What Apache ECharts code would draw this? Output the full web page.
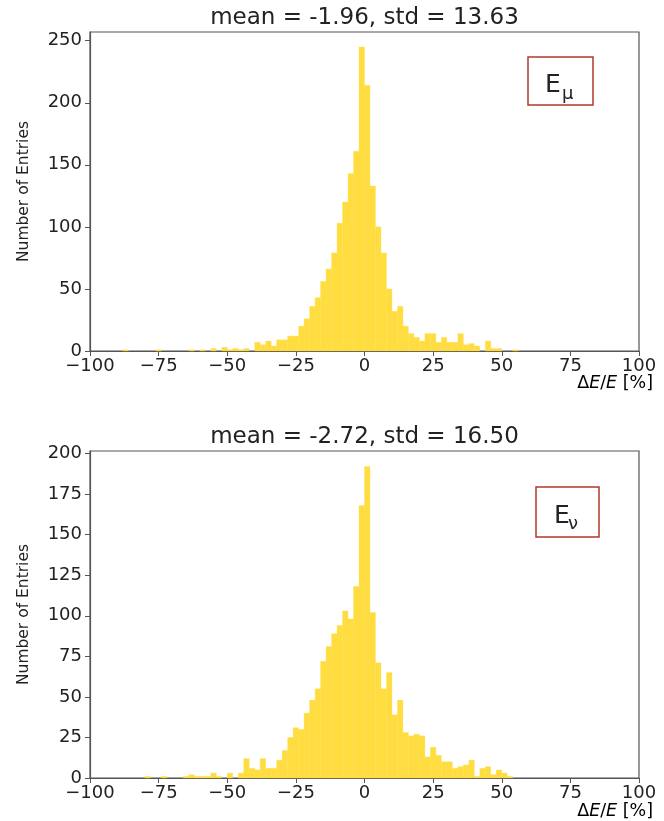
<!DOCTYPE html>
<html><head><meta charset="utf-8">
<script src="https://cdn.jsdelivr.net/npm/echarts@6/dist/echarts.min.js"></script>
<style>html,body{margin:0;padding:0;background:#fff}#c{width:664px;height:821px}</style>
</head><body><div id="c"></div>
<script>
// ---- data ----
const BIN_WIDTH = 2;
const xTicks = [-100, -75, -50, -25, 0, 25, 50, 75, 100];
const muYTicks = [0, 50, 100, 150, 200, 250];
const nuYTicks = [0, 25, 50, 75, 100, 125, 150, 175, 200];
const muYMax = 257;
const nuYMax = 201.6;
const muTitle = 'mean = -1.96, std = 13.63';
const nuTitle = 'mean = -2.72, std = 16.50';
const yName = 'Number of Entries';
// left edge of each non-empty 2% bin, and its count
const muBins = [-88,-76,-64,-60,-56,-52,-50,-48,-46,-44,-40,-38,-36,-34,-32,-30,-28,-26,-24,-22,-20,-18,-16,-14,-12,-10,-8,-6,-4,-2,0,2,4,6,8,10,12,14,16,18,20,22,24,26,28,30,32,34,36,38,40,44,46,48,54];
const muCounts = [1,1,1,1,2,3,1,2,1,2,7,5,8,4,9,9,12,12,20,26,36,43,56,66,79,103,120,143,161,245,214,133,100,79,50,32,36,20,14,11,8,14,14,7,11,7,7,14,5,6,4,8,2,2,1];
const nuBins = [-80,-74,-66,-64,-62,-60,-58,-56,-54,-50,-46,-44,-42,-40,-38,-36,-34,-32,-30,-28,-26,-24,-22,-20,-18,-16,-14,-12,-10,-8,-6,-4,-2,0,2,4,6,8,10,12,14,16,18,20,22,24,26,28,30,32,34,36,38,40,42,44,46,48,50,52];
const nuCounts = [1,1,1,2,1,1,1,3,1,3,3,12,6,5,12,6,6,11,17,25,31,30,40,48,55,72,81,89,94,103,98,118,168,192,102,71,55,65,39,48,28,26,27,26,13,19,14,10,10,6,7,8,11,1,6,7,2,5,3,1];

// ---- style ----
const BAR = '#FFDD40';
const AX = '#555';
const TXT = '#222';
const FONT = "'DejaVu Sans', sans-serif";
const minus = v => String(v).replace('-', '\u2212');

function renderBar(params, api) {
  const left = api.value(0), cnt = api.value(1);
  const p0 = api.coord([left, cnt]);
  const p1 = api.coord([left + BIN_WIDTH, 0]);
  return {type: 'rect', shape: {x: p0[0], y: p0[1], width: p1[0] - p0[0], height: p1[1] - p0[1]},
          style: {fill: BAR, stroke: BAR, lineWidth: 0.3}};
}

function xAxis(gi) {
  return {gridIndex: gi, type: 'value', min: xTicks[0], max: xTicks[xTicks.length - 1], interval: 25,
    axisLine: {show: true, onZero: false, lineStyle: {color: AX, width: 1.2}},
    axisTick: {show: true, length: 5, lineStyle: {color: AX}},
    axisLabel: {color: TXT, fontSize: 18, fontFamily: FONT, margin: 6, formatter: minus,
                customValues: xTicks},
    splitLine: {show: false}};
}
function yAxis(gi, ticks, max, interval) {
  return {gridIndex: gi, type: 'value', min: 0, max: max, interval: interval,
    name: yName, nameLocation: 'middle', nameGap: 58,
    nameTextStyle: {color: TXT, fontSize: 15.5, fontFamily: FONT},
    axisLine: {show: true, onZero: false, lineStyle: {color: AX, width: 1.2}},
    axisTick: {show: true, length: 5, lineStyle: {color: AX}, customValues: ticks},
    axisLabel: {color: TXT, fontSize: 18, fontFamily: FONT, margin: 8, customValues: ticks},
    splitLine: {show: false}};
}
function txt(x, y, text, size, align, extra) {
  return Object.assign({type: 'text', x: x, y: y, z: 100,
    style: {text: text, fill: TXT, font: size + 'px ' + FONT, textAlign: align, textVerticalAlign: 'middle'}}, extra || {});
}
function xlabel(y) {
  return {type: 'text', x: 653, y: y, z: 100,
    style: {text: '{n|Δ}{i|E}{n|/}{i|E}{n| [%]}', textAlign: 'right', textVerticalAlign: 'middle',
      rich: {n: {fontSize: 17.5, fontFamily: FONT, color: TXT},
             i: {fontSize: 17.5, fontFamily: FONT, fontStyle: 'italic', color: TXT}}}};
}
function box(x, y, w, h, sub, ex, ey, sx, sy) {
  return [
    {type: 'rect', z: 100, shape: {x: x, y: y, width: w, height: h},
     style: {fill: '#fff', stroke: '#b0392b', lineWidth: 1.5}},
    txt(ex, ey, 'E', 25, 'left'),
    txt(sx, sy, sub, 18, 'left')
  ];
}

const chart = echarts.init(document.getElementById('c'), null, {renderer: 'canvas'});
chart.setOption({
  backgroundColor: '#fff',
  animation: false,
  grid: [
    {left: 90, top: 32, width: 549, height: 319, show: true, borderColor: AX, borderWidth: 1.2, backgroundColor: 'transparent'},
    {left: 90, top: 451, width: 549, height: 327, show: true, borderColor: AX, borderWidth: 1.2, backgroundColor: 'transparent'}
  ],
  xAxis: [xAxis(0), xAxis(1)],
  yAxis: [yAxis(0, muYTicks, muYMax, 50), yAxis(1, nuYTicks, nuYMax, 25)],
  series: [
    {type: 'custom', xAxisIndex: 0, yAxisIndex: 0, renderItem: renderBar, encode: {x: 0, y: 1},
     data: muBins.map((b, i) => [b, muCounts[i]])},
    {type: 'custom', xAxisIndex: 1, yAxisIndex: 1, renderItem: renderBar, encode: {x: 0, y: 1},
     data: nuBins.map((b, i) => [b, nuCounts[i]])}
  ],
  graphic: [
    txt(364.5, 18, muTitle, 23, 'center'),
    txt(364.5, 437, nuTitle, 23, 'center'),
    xlabel(383),
    xlabel(811)
  ].concat(box(528, 57, 65, 48, 'μ', 545, 85.5, 562, 94))
   .concat(box(536, 487, 63, 50, 'ν', 554, 516, 568, 524))
});
</script></body></html>
